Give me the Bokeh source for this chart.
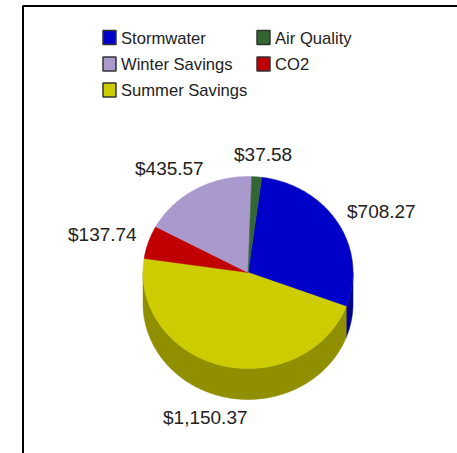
import math
from bokeh.plotting import figure
from bokeh.models import Range1d, ColumnDataSource
from bokeh.core.properties import value
from bokeh.embed import file_html
from bokeh.resources import INLINE

# data, clockwise in drawing order
slice_names = ["Stormwater", "Summer Savings", "CO2", "Winter Savings", "Air Quality"]
slice_values = [708.27, 1150.37, 137.74, 435.57, 37.58]
slice_labels = ["$708.27", "$1,150.37", "$137.74", "$435.57", "$37.58"]
slice_colors = ["#0000C8", "#CCCC00", "#C00000", "#AA99CC", "#336633"]
wall_colors = ["#00008C", "#8F8F00", "#860000", "#776B8F", "#244724"]

legend_names = ["Stormwater", "Air Quality", "Winter Savings", "CO2", "Summer Savings"]
legend_colors = ["#0000C8", "#336633", "#AA99CC", "#C00000", "#CCCC00"]
legend_x = [102, 256, 102, 256, 102]
legend_y = [37, 37, 63.5, 63.5, 89.5]

label_x = [346.5, 162.5, 67.5, 134.5, 233.5]
label_y = [210.5, 416.5, 233.5, 167.5, 153.5]

W, H = 457, 453
CX, CY, RX, RY, DEPTH = 247.5, 272, 105, 96, 31
START = 7.5

p = figure(width=W, height=H, output_backend="svg", toolbar_location=None,
           x_range=Range1d(0, W), y_range=Range1d(H, 0), min_border=0,
           margin=(0, 0, 0, 0))
p.axis.visible = False
p.grid.visible = False
p.outline_line_color = None
p.background_fill_color = "white"
p.border_fill_color = "white"

def pt(deg, dy=0):
    a = math.radians(deg)
    return CX + RX * math.sin(a), CY - RY * math.cos(a) + dy

def arc(a0, a1, dy=0):
    n = max(2, int(abs(a1 - a0)) + 1)
    return [pt(a0 + (a1 - a0) * i / n, dy) for i in range(n + 1)]

total = sum(slice_values)
angles = [START]
for v in slice_values:
    angles.append(angles[-1] + 360 * v / total)

# side wall: only the front half (90..270 degrees) is visible
wx, wy, wc = [], [], []
for i in range(len(slice_values)):
    a0, a1 = max(angles[i], 90), min(angles[i + 1], 270)
    if a1 > a0:
        pts = arc(a0, a1) + arc(a1, a0, DEPTH)
        wx.append([q[0] for q in pts]); wy.append([q[1] for q in pts]); wc.append(wall_colors[i])
p.patches("x", "y", source=ColumnDataSource(dict(x=wx, y=wy, c=wc)),
          fill_color="c", line_color="c", line_width=0.5)

# top face
sx, sy = [], []
for i in range(len(slice_values)):
    pts = [(CX, CY)] + arc(angles[i], angles[i + 1])
    sx.append([q[0] for q in pts]); sy.append([q[1] for q in pts])
p.patches("x", "y", source=ColumnDataSource(dict(x=sx, y=sy, c=slice_colors)),
          fill_color="c", line_color="c", line_width=0.5)

# frame: left and top edges only
p.line([22.5, 22.5, W], [H, 5.5, 5.5], line_color="black", line_width=2)

# legend
p.rect(x=[v + 7 for v in legend_x], y=legend_y, width=13, height=14,
       fill_color=legend_colors, line_color="#333333", line_width=1.5)
p.text(x=[v + 18.5 for v in legend_x], y=[v + 0.5 for v in legend_y], text=legend_names,
       text_font=value("Liberation Sans"), text_font_size="16.6px",
       text_color="#222222", text_baseline="middle", text_align="left")

# value labels
p.text(x=label_x, y=label_y, text=slice_labels,
       text_font=value("Liberation Sans"), text_font_size="19px",
       text_color="#222222", text_baseline="middle", text_align="left")

open("out.html", "w").write(file_html(p, INLINE))
